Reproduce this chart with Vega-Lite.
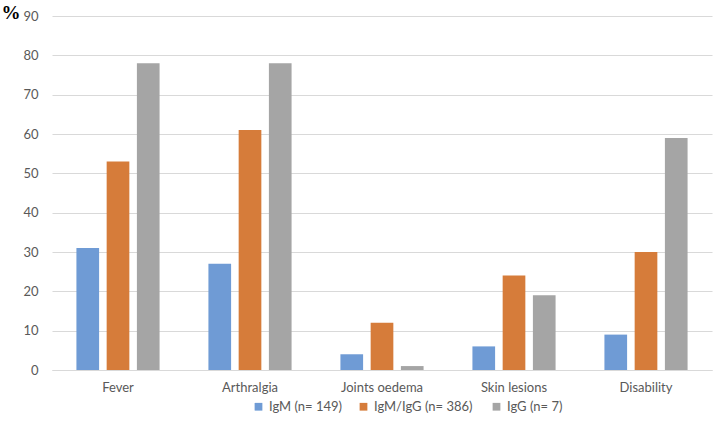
{
  "$schema": "https://vega.github.io/schema/vega-lite/v6.json",
  "width": 660,
  "height": 354,
  "autosize": {"type": "none"},
  "padding": {"left": 52, "top": 16, "right": 4, "bottom": 60},
  "background": "white",
  "config": {"view": {"stroke": null}},
  "data": {
    "values": [
      {"symptom": "Fever", "group": "IgM (n= 149)", "pct": 31},
      {"symptom": "Fever", "group": "IgM/IgG  (n= 386)", "pct": 53},
      {"symptom": "Fever", "group": "IgG (n= 7)", "pct": 78},
      {"symptom": "Arthralgia", "group": "IgM (n= 149)", "pct": 27},
      {"symptom": "Arthralgia", "group": "IgM/IgG  (n= 386)", "pct": 61},
      {"symptom": "Arthralgia", "group": "IgG (n= 7)", "pct": 78},
      {"symptom": "Joints oedema", "group": "IgM (n= 149)", "pct": 4},
      {"symptom": "Joints oedema", "group": "IgM/IgG  (n= 386)", "pct": 12},
      {"symptom": "Joints oedema", "group": "IgG (n= 7)", "pct": 1},
      {"symptom": "Skin lesions", "group": "IgM (n= 149)", "pct": 6},
      {"symptom": "Skin lesions", "group": "IgM/IgG  (n= 386)", "pct": 24},
      {"symptom": "Skin lesions", "group": "IgG (n= 7)", "pct": 19},
      {"symptom": "Disability", "group": "IgM (n= 149)", "pct": 9},
      {"symptom": "Disability", "group": "IgM/IgG  (n= 386)", "pct": 30},
      {"symptom": "Disability", "group": "IgG (n= 7)", "pct": 59}
    ]
  },
  "mark": {"type": "bar"},
  "encoding": {
    "x": {
      "field": "symptom",
      "type": "nominal",
      "sort": ["Fever", "Arthralgia", "Joints oedema", "Skin lesions", "Disability"],
      "scale": {"paddingInner": 0.37, "paddingOuter": 0.185},
      "axis": {
        "title": null,
        "labelAngle": 0,
        "labelFont": "Lato",
        "labelFontSize": 13,
        "labelColor": "#595959",
        "labelPadding": 11,
        "ticks": false,
        "domainColor": "#d9d9d9"
      }
    },
    "xOffset": {
      "field": "group",
      "type": "nominal",
      "sort": ["IgM (n= 149)", "IgM/IgG  (n= 386)", "IgG (n= 7)"],
      "scale": {"paddingInner": 0.25, "paddingOuter": 0}
    },
    "y": {
      "field": "pct",
      "type": "quantitative",
      "scale": {"domain": [0, 90], "nice": false},
      "axis": {
        "title": "%",
        "titleAngle": 0,
        "titleFont": "Liberation Serif",
        "titleFontSize": 19,
        "titleFontWeight": "bold",
        "titleColor": "black",
        "titleX": -51,
        "titleY": -13,
        "titleAlign": "left",
        "titleBaseline": "top",
        "values": [0, 10, 20, 30, 40, 50, 60, 70, 80, 90],
        "labelFont": "Lato",
        "labelFontSize": 13,
        "labelColor": "#595959",
        "labelPadding": 14,
        "ticks": false,
        "domain": false,
        "gridColor": "#d9d9d9"
      }
    },
    "color": {
      "field": "group",
      "type": "nominal",
      "scale": {
        "domain": ["IgM (n= 149)", "IgM/IgG  (n= 386)", "IgG (n= 7)"],
        "range": ["#6F9BD5", "#D67C3A", "#A5A5A5"]
      },
      "legend": {
        "title": null,
        "orient": "none",
        "direction": "horizontal",
        "legendX": 200,
        "legendY": 384,
        "symbolType": "square",
        "symbolSize": 60,
        "symbolStrokeWidth": 0,
        "labelFont": "Lato",
        "labelFontSize": 13,
        "labelColor": "#595959",
        "columnPadding": 14,
        "labelOffset": 4
      }
    }
  }
}
